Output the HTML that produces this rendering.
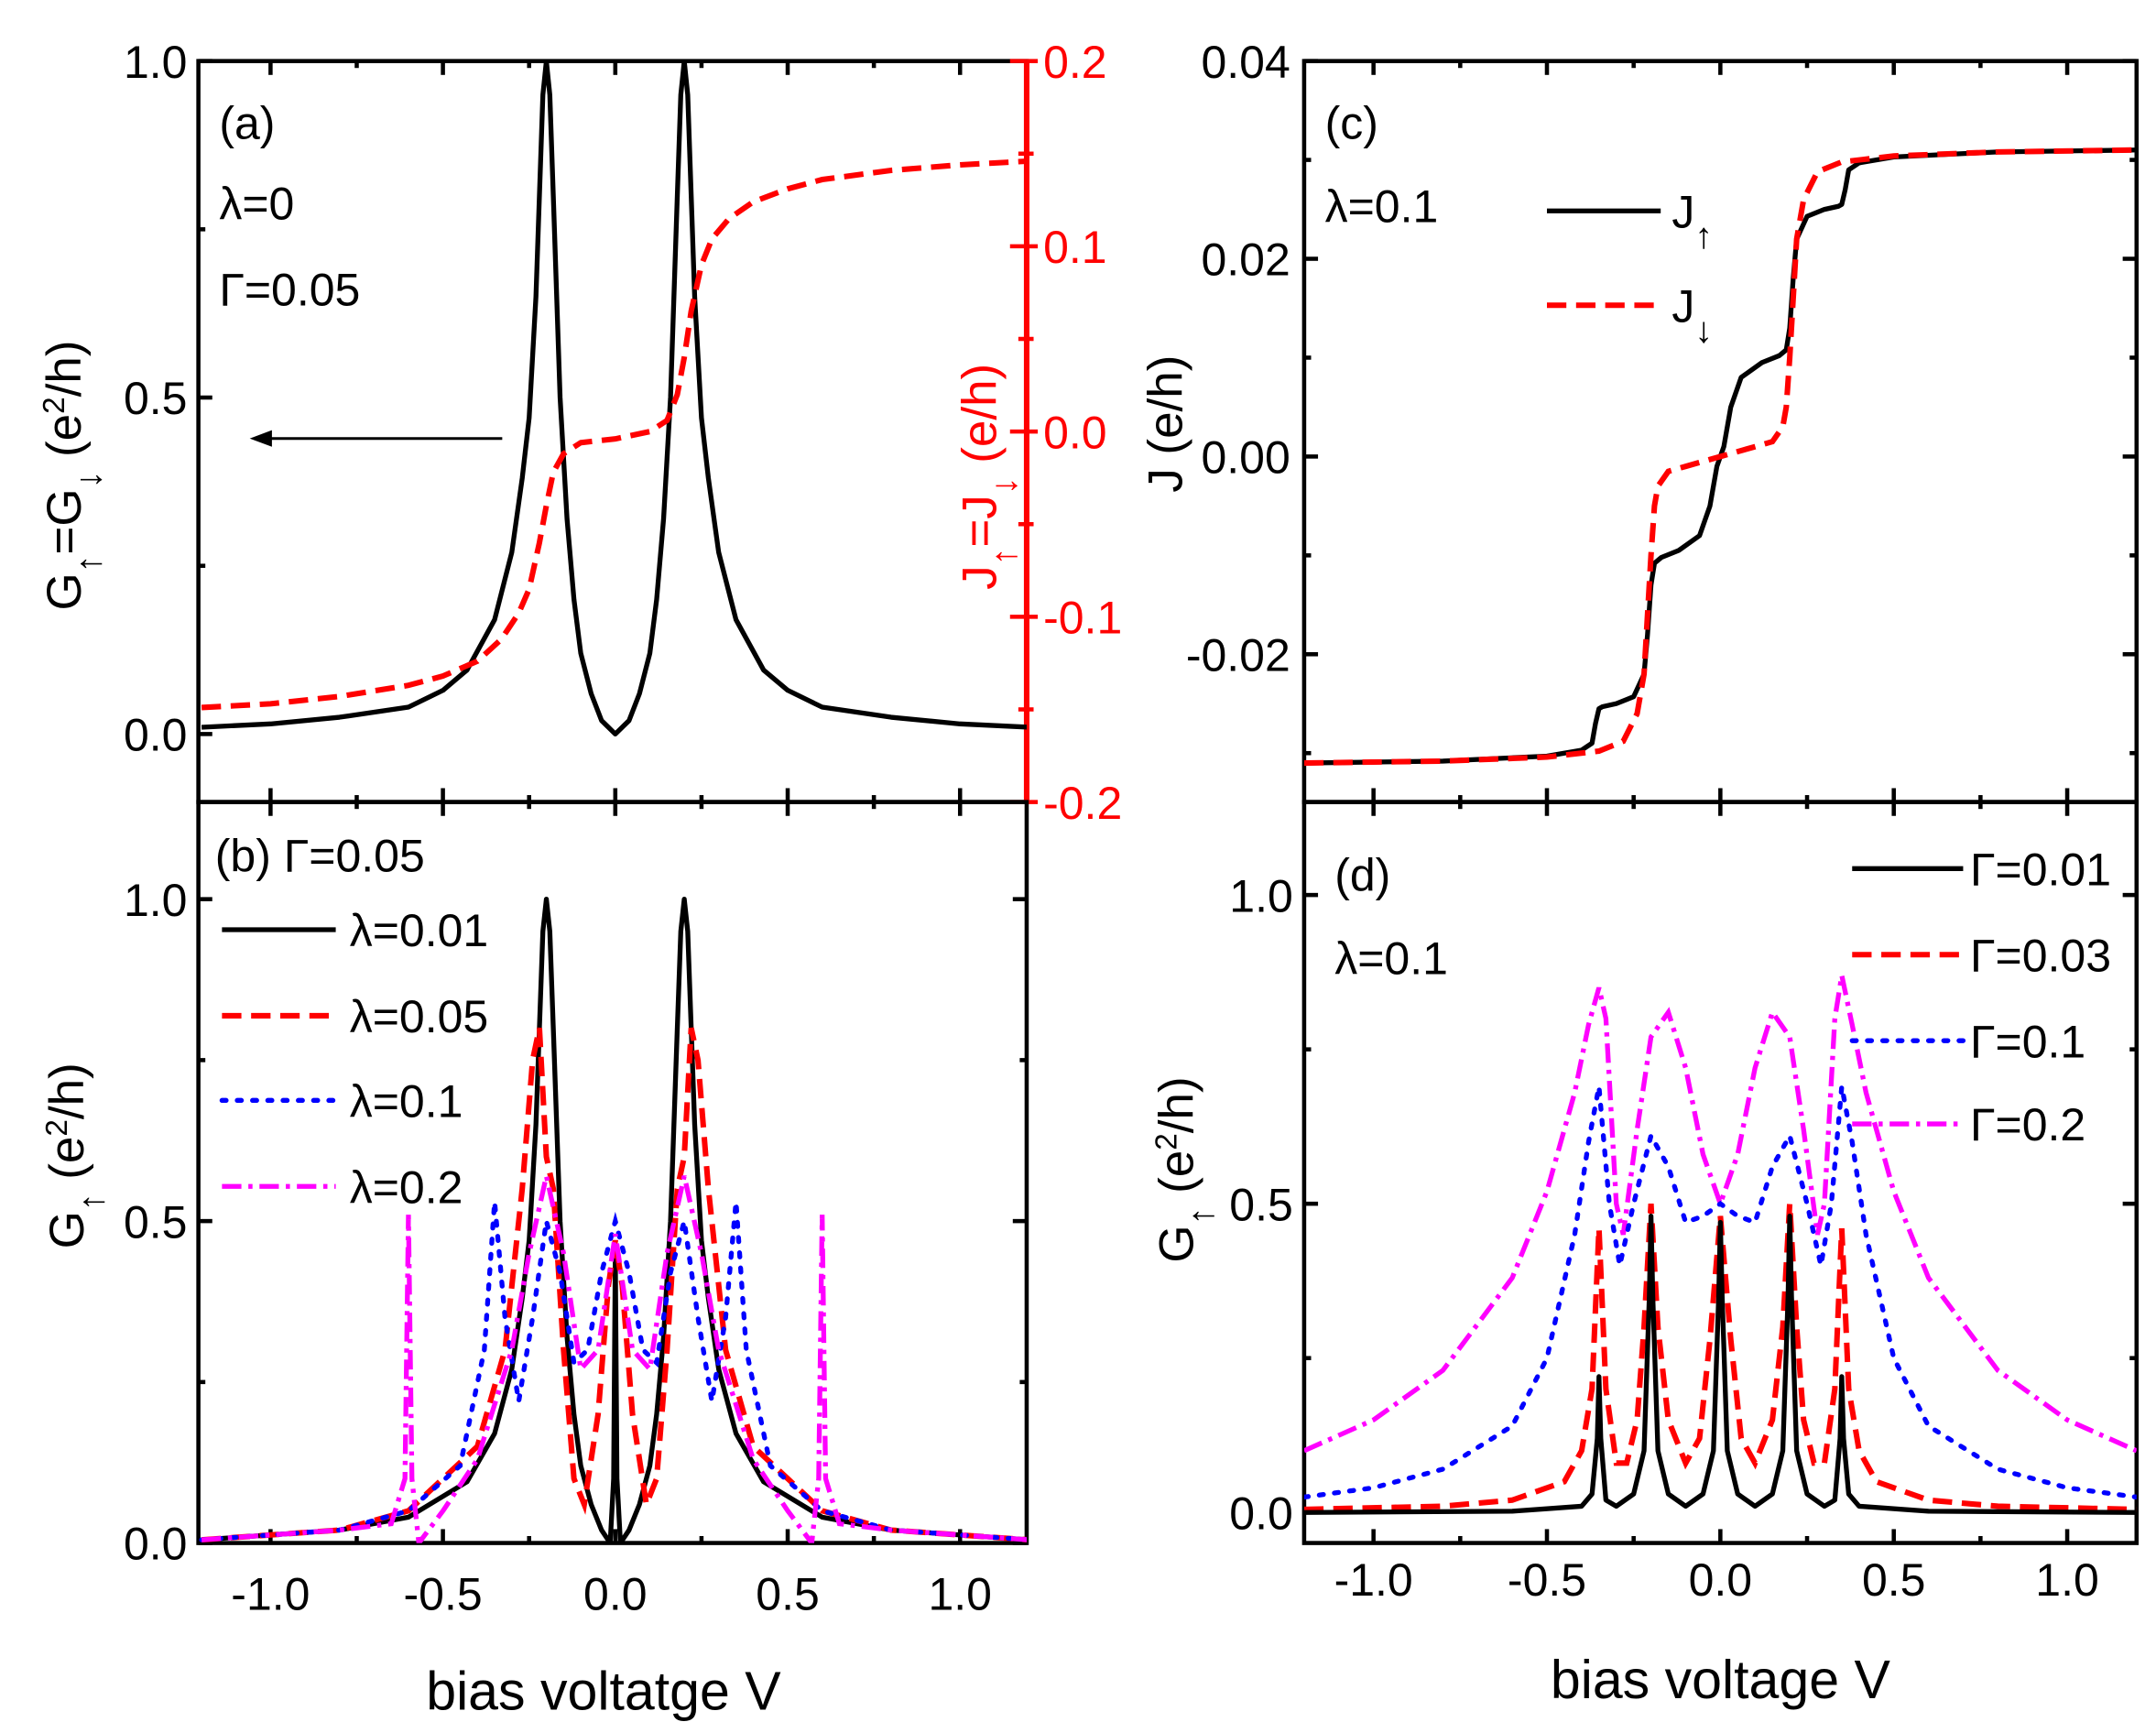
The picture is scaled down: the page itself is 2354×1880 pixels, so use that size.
<!DOCTYPE html>
<html><head><meta charset="utf-8"><style>
html,body{margin:0;padding:0;background:#fff}
svg{display:block}
text{font-family:"Liberation Sans",Arial,sans-serif}
</style></head><body>
<svg id="fig" width="2354" height="1880" viewBox="0 0 1554 1241" preserveAspectRatio="none" xmlns="http://www.w3.org/2000/svg">
<defs>
<clipPath id="cpA"><rect x="143" y="44" width="597" height="534"/></clipPath>
<clipPath id="cpB"><rect x="143" y="578" width="597" height="534"/></clipPath>
<clipPath id="cpC"><rect x="940" y="44" width="600" height="534"/></clipPath>
<clipPath id="cpD"><rect x="940" y="578" width="600" height="534"/></clipPath>
</defs>
<g id="layer"></g>
</svg>
<script>
// ---------- data ----------
// panel (a)
const aGx=[-1.2,-1.0,-0.8,-0.6,-0.5,-0.43,-0.35,-0.3,-0.27,-0.25,-0.23,-0.22,-0.21,-0.2,-0.19,-0.18,-0.16,-0.14,-0.12,-0.1,-0.07,-0.04,0,0.04,0.07,0.1,0.12,0.14,0.16,0.18,0.19,0.2,0.21,0.22,0.23,0.25,0.27,0.3,0.35,0.43,0.5,0.6,0.8,1.0,1.2];
const aGy=[0.01,0.015,0.025,0.04,0.065,0.095,0.17,0.27,0.38,0.47,0.65,0.8,0.95,1.0,0.95,0.8,0.5,0.32,0.2,0.12,0.06,0.02,0.0,0.02,0.06,0.12,0.2,0.32,0.5,0.8,0.95,1.0,0.95,0.8,0.65,0.47,0.38,0.27,0.17,0.095,0.065,0.04,0.025,0.015,0.01];
const aJx=[-1.2,-1.0,-0.8,-0.6,-0.5,-0.4,-0.33,-0.28,-0.25,-0.22,-0.2,-0.18,-0.15,-0.1,0,0.1,0.15,0.18,0.2,0.22,0.25,0.28,0.33,0.4,0.5,0.6,0.8,1.0,1.2];
const aJy=[-0.149,-0.147,-0.143,-0.137,-0.132,-0.124,-0.112,-0.098,-0.085,-0.06,-0.04,-0.022,-0.012,-0.006,-0.004,0.0,0.006,0.02,0.04,0.065,0.09,0.104,0.115,0.124,0.131,0.136,0.141,0.144,0.146];
// panel (b)
const bBx=[-1.2,-0.8,-0.6,-0.43,-0.35,-0.3,-0.27,-0.25,-0.23,-0.22,-0.21,-0.2,-0.19,-0.18,-0.16,-0.14,-0.12,-0.1,-0.07,-0.04,-0.015,-0.005,0,0.005,0.015,0.04,0.07,0.1,0.12,0.14,0.16,0.18,0.19,0.2,0.21,0.22,0.23,0.25,0.27,0.3,0.35,0.43,0.6,0.8,1.2];
const bBy=[0.005,0.02,0.04,0.095,0.17,0.27,0.38,0.47,0.65,0.8,0.95,1.0,0.95,0.8,0.5,0.32,0.2,0.12,0.06,0.02,0.0,0.1,0.45,0.1,0.0,0.02,0.06,0.12,0.2,0.32,0.5,0.8,0.95,1.0,0.95,0.8,0.65,0.47,0.38,0.27,0.17,0.095,0.04,0.02,0.005];
const bRx=[-1.2,-0.8,-0.6,-0.4,-0.32,-0.27,-0.24,-0.22,-0.2,-0.18,-0.15,-0.12,-0.09,-0.05,-0.02,0,0.02,0.05,0.09,0.12,0.15,0.18,0.2,0.22,0.24,0.27,0.32,0.4,0.6,0.8,1.2];
const bRy=[0.005,0.02,0.05,0.15,0.3,0.55,0.75,0.8,0.6,0.55,0.3,0.1,0.06,0.2,0.4,0.47,0.4,0.2,0.06,0.1,0.3,0.55,0.6,0.8,0.75,0.55,0.3,0.15,0.05,0.02,0.005];
const bUx=[-1.2,-0.8,-0.6,-0.45,-0.38,-0.35,-0.32,-0.28,-0.24,-0.2,-0.16,-0.12,-0.08,-0.04,0,0.04,0.08,0.12,0.16,0.2,0.24,0.28,0.32,0.35,0.38,0.45,0.6,0.8,1.2];
const bUy=[0.005,0.02,0.05,0.12,0.3,0.53,0.35,0.22,0.35,0.5,0.42,0.28,0.3,0.42,0.5,0.42,0.3,0.28,0.42,0.5,0.35,0.22,0.35,0.53,0.3,0.12,0.05,0.02,0.005];
const bMx=[-1.2,-0.8,-0.65,-0.61,-0.6,-0.59,-0.57,-0.5,-0.4,-0.3,-0.25,-0.2,-0.15,-0.1,-0.05,0,0.05,0.1,0.15,0.2,0.25,0.3,0.4,0.5,0.57,0.59,0.6,0.61,0.65,0.8,1.2];
const bMy=[0.005,0.02,0.03,0.1,0.51,0.1,0.0,0.05,0.13,0.3,0.45,0.57,0.45,0.27,0.3,0.48,0.3,0.27,0.45,0.57,0.45,0.3,0.13,0.05,0.0,0.1,0.51,0.1,0.03,0.02,0.005];
// panel (c)
const cUx=[-1.2,-0.8,-0.5,-0.4,-0.37,-0.36,-0.35,-0.34,-0.3,-0.25,-0.22,-0.21,-0.2,-0.19,-0.17,-0.12,-0.06,-0.03,-0.01,0,0.01,0.03,0.06,0.12,0.17,0.19,0.2,0.21,0.22,0.25,0.3,0.34,0.35,0.36,0.37,0.4,0.5,0.8,1.2];
const cUy=[-0.031,-0.0308,-0.0303,-0.0297,-0.029,-0.027,-0.0255,-0.0253,-0.025,-0.0243,-0.022,-0.018,-0.013,-0.0108,-0.0102,-0.0095,-0.008,-0.005,-0.001,0.0,0.001,0.005,0.008,0.0095,0.0102,0.0108,0.013,0.018,0.022,0.0243,0.025,0.0253,0.0255,0.027,0.029,0.0297,0.0303,0.0308,0.031];
const cDx=[-1.2,-0.8,-0.5,-0.35,-0.28,-0.24,-0.22,-0.21,-0.2,-0.19,-0.18,-0.15,-0.1,0,0.1,0.15,0.18,0.19,0.2,0.21,0.22,0.24,0.28,0.35,0.5,0.8,1.2];
const cDy=[-0.031,-0.0308,-0.0304,-0.0298,-0.0288,-0.026,-0.022,-0.016,-0.01,-0.005,-0.003,-0.0015,-0.001,0.0,0.001,0.0015,0.003,0.005,0.01,0.016,0.022,0.026,0.0288,0.0298,0.0304,0.0308,0.031];
// panel (d)
const dKx=[-1.2,-0.6,-0.4,-0.37,-0.355,-0.35,-0.345,-0.33,-0.3,-0.25,-0.22,-0.205,-0.2,-0.195,-0.18,-0.15,-0.1,-0.05,-0.02,-0.005,0,0.005,0.02,0.05,0.1,0.15,0.18,0.195,0.2,0.205,0.22,0.25,0.3,0.33,0.345,0.35,0.355,0.37,0.4,0.6,1.2];
const dKy=[0.0,0.002,0.01,0.03,0.12,0.22,0.12,0.02,0.01,0.03,0.1,0.35,0.48,0.35,0.1,0.03,0.01,0.03,0.1,0.35,0.47,0.35,0.1,0.03,0.01,0.03,0.1,0.35,0.48,0.35,0.1,0.03,0.01,0.02,0.12,0.22,0.12,0.03,0.01,0.002,0.0];
const dRx=[-1.2,-0.8,-0.6,-0.45,-0.4,-0.37,-0.35,-0.33,-0.3,-0.27,-0.24,-0.22,-0.2,-0.18,-0.15,-0.1,-0.06,-0.03,0,0.03,0.06,0.1,0.15,0.18,0.2,0.22,0.24,0.27,0.3,0.33,0.35,0.37,0.4,0.45,0.6,0.8,1.2];
const dRy=[0.005,0.01,0.02,0.05,0.1,0.2,0.46,0.2,0.08,0.08,0.15,0.3,0.5,0.3,0.15,0.08,0.12,0.28,0.48,0.28,0.12,0.08,0.15,0.3,0.5,0.3,0.15,0.08,0.08,0.2,0.46,0.2,0.1,0.05,0.02,0.01,0.005];
const dUx=[-1.2,-1.0,-0.8,-0.6,-0.5,-0.42,-0.38,-0.35,-0.32,-0.29,-0.25,-0.2,-0.15,-0.1,-0.05,0,0.05,0.1,0.15,0.2,0.25,0.29,0.32,0.35,0.38,0.42,0.5,0.6,0.8,1.0,1.2];
const dUy=[0.025,0.04,0.07,0.14,0.25,0.45,0.6,0.69,0.5,0.4,0.5,0.61,0.56,0.47,0.48,0.5,0.48,0.47,0.56,0.61,0.5,0.4,0.5,0.69,0.6,0.45,0.25,0.14,0.07,0.04,0.025];
const dMx=[-1.2,-1.0,-0.8,-0.6,-0.5,-0.42,-0.38,-0.35,-0.33,-0.3,-0.28,-0.24,-0.2,-0.15,-0.1,-0.05,0,0.05,0.1,0.15,0.2,0.24,0.28,0.3,0.33,0.35,0.38,0.42,0.5,0.6,0.8,1.0,1.2];
const dMy=[0.1,0.15,0.23,0.38,0.52,0.68,0.79,0.85,0.8,0.5,0.45,0.62,0.77,0.81,0.72,0.58,0.5,0.58,0.72,0.81,0.77,0.62,0.45,0.5,0.8,0.87,0.79,0.68,0.52,0.38,0.23,0.15,0.1];

// ---------- helpers ----------
const NS="http://www.w3.org/2000/svg";
const layer=document.getElementById('layer');
function mk(tag,attrs,parent){const e=document.createElementNS(NS,tag);for(const k in attrs)e.setAttribute(k,attrs[k]);(parent||layer).appendChild(e);return e;}
function lin(d0,d1,p0,p1){return v=>p0+(v-d0)*(p1-p0)/(d1-d0);}
const xL=lin(-1,1,195,692), xR=lin(-1,1,990,1490);
const yA=lin(0,1,529,44), yAJ=lin(0,0.1,311,177.5), yB=lin(0,1,1112,648), yC=lin(0,0.02,329,186.5), yD=lin(0,1,1090,645);
const styles={
 black:{stroke:'#000','stroke-width':3.5,fill:'none','stroke-linejoin':'round'},
 red:{stroke:'#ff0000','stroke-width':4,fill:'none','stroke-dasharray':'14 7'},
 blue:{stroke:'#0000ff','stroke-width':3.5,fill:'none','stroke-dasharray':'3 8','stroke-linecap':'round'},
 mag:{stroke:'#ff00ff','stroke-width':3.5,fill:'none','stroke-dasharray':'14 5 3 5'}
};
function series(xs,ys,fx,fy,st,clip,name){
 let d='';for(let i=0;i<xs.length;i++)d+=(i?'L':'M')+fx(xs[i]).toFixed(1)+' '+fy(ys[i]).toFixed(1);
 const p=mk('path',Object.assign({d:d,'clip-path':'url(#'+clip+')'},styles[st]));
 
 
}
function txt(x,y,s,size,anchor,fill,name,rot){
 const t=mk('text',{x:x,y:y,'font-size':size,'text-anchor':anchor||'start',fill:fill||'#000'});
 if(rot)t.setAttribute('transform','rotate(-90 '+x+' '+y+')');
 t.innerHTML=s;
 
 
 return t;
}
function frame(x0,y0,x1,y1,name){
 const r=mk('rect',{x:x0,y:y0,width:x1-x0,height:y1-y0,fill:'none',stroke:'#000','stroke-width':3});
 
 
}
function tick(x1,y1,x2,y2,color){mk('line',{x1:x1,y1:y1,x2:x2,y2:y2,stroke:color||'#000','stroke-width':3});}
const xMaj=[-1.0,-0.5,0.0,0.5,1.0], xMin=[-0.75,-0.25,0.25,0.75];
const xLab=['-1.0','-0.5','0.0','0.5','1.0'];
function xticks(fx,yTop,yBot,labels,labY){
 xMaj.forEach((v,i)=>{const x=fx(v);tick(x,yTop,x,yTop+10);tick(x,yBot,x,yBot-10);
  if(labels)txt(x,labY,xLab[i],33,'middle','#000','x-tick-label');});
 xMin.forEach(v=>{const x=fx(v);tick(x,yTop,x,yTop+5);tick(x,yBot,x,yBot-5);});
}
const SUP=s=>'<tspan baseline-shift="super" font-size="22">'+s+'</tspan>';
const SUB=s=>'<tspan baseline-shift="sub" font-size="26">'+s+'</tspan>';

// ---------- panel a ----------
frame(143,44,740,578,'panel-a-frame');
xticks(xL,44,578,false);
const aYt=[0,0.5,1.0],aYl=['0.0','0.5','1.0'];
aYt.forEach((v,i)=>{tick(143,yA(v),153,yA(v));txt(135,yA(v)+12,aYl[i],33,'end','#000','y-tick-label-a');});
[0.25,0.75].forEach(v=>tick(143,yA(v),148,yA(v)));
const aJt=[-0.2,-0.1,0.0,0.1,0.2],aJl=['-0.2','-0.1','0.0','0.1','0.2'];
mk('line',{x1:740,y1:44,x2:740,y2:578,stroke:'#ff0000','stroke-width':4});
aJt.forEach((v,i)=>{tick(740,yAJ(v),728,yAJ(v),'#ff0000');tick(740,yAJ(v),748,yAJ(v),'#ff0000');txt(752,yAJ(v)+12,aJl[i],33,'start','#ff0000','y2-tick-label-a');});
[-0.15,-0.05,0.05,0.15].forEach(v=>{tick(740,yAJ(v),734,yAJ(v),'#ff0000');tick(740,yAJ(v),745,yAJ(v),'#ff0000');});
series(aGx,aGy,xL,yA,'black','cpA','conductance-curve-a');
series(aJx,aJy,xL,yAJ,'red','cpA','current-curve-a');
txt(158,100,'(a)',33,'start','#000','panel-a-label');
txt(158,158,'λ=0',33,'start','#000','lambda-label-a');
txt(158,220,'Γ=0.05',33,'start','#000','gamma-label-a');
mk('line',{x1:362,y1:316,x2:190,y2:316,stroke:'#000','stroke-width':2});
mk('path',{d:'M180 316 L196 310 L196 322 Z',fill:'#000'});
txt(58,440,'G'+SUB('↑')+'=G'+SUB('↓')+' (e'+SUP('2')+'/h)',35,'start','#000','y-axis-title-a',true);
txt(718,425,'J'+SUB('↑')+'=J'+SUB('↓')+' (e/h)',35,'start','#ff0000','y2-axis-title-a',true);

// ---------- panel b ----------
frame(143,578,740,1112,'panel-b-frame');
xticks(xL,578,1112,true,1160);
const bYt=[0,0.5,1.0];
bYt.forEach((v,i)=>{tick(143,yB(v),153,yB(v));tick(740,yB(v),730,yB(v));txt(135,yB(v)+12,aYl[i],33,'end','#000','y-tick-label-b');});
[0.25,0.75].forEach(v=>{tick(143,yB(v),148,yB(v));tick(740,yB(v),735,yB(v));});
series(bBx,bBy,xL,yB,'black','cpB','lambda-0.01-curve');
series(bRx,bRy,xL,yB,'red','cpB','lambda-0.05-curve');
series(bUx,bUy,xL,yB,'blue','cpB','lambda-0.1-curve');
series(bMx,bMy,xL,yB,'mag','cpB','lambda-0.2-curve');
txt(155,628,'(b) Γ=0.05',33,'start','#000','panel-b-label');
const bLeg=[['black','λ=0.01',670],['red','λ=0.05',732],['blue','λ=0.1',793],['mag','λ=0.2',855]];
bLeg.forEach(l=>{mk('line',Object.assign({x1:160,y1:l[2],x2:242,y2:l[2]},styles[l[0]]));txt(252,l[2]+12,l[1],33,'start','#000','legend-entry-b');});
txt(435,1232,'bias voltatge V',39,'middle','#000','x-axis-title-left');
txt(60,900,'G'+SUB('↑')+' (e'+SUP('2')+'/h)',35,'start','#000','y-axis-title-b',true);

// ---------- panel c ----------
frame(940,44,1540,578,'panel-c-frame');
xticks(xR,44,578,false);
const cYt=[-0.02,0.0,0.02,0.04],cYl=['-0.02','0.00','0.02','0.04'];
cYt.forEach((v,i)=>{tick(940,yC(v),950,yC(v));tick(1540,yC(v),1530,yC(v));txt(930,yC(v)+12,cYl[i],33,'end','#000','y-tick-label-c');});
[-0.03,-0.01,0.01,0.03].forEach(v=>{tick(940,yC(v),945,yC(v));tick(1540,yC(v),1535,yC(v));});
series(cUx,cUy,xR,yC,'black','cpC','spin-up-current');
series(cDx,cDy,xR,yC,'red','cpC','spin-down-current');
txt(955,100,'(c)',33,'start','#000','panel-c-label');
txt(955,160,'λ=0.1',33,'start','#000','lambda-label-c');
mk('line',Object.assign({x1:1115,y1:152,x2:1197,y2:152},styles.black));
txt(1205,164,'J'+SUB('↑'),33,'start','#000','legend-entry-c');
mk('line',Object.assign({x1:1115,y1:220,x2:1197,y2:220},styles.red));
txt(1205,232,'J'+SUB('↓'),33,'start','#000','legend-entry-c');
txt(852,355,'J (e/h)',35,'start','#000','y-axis-title-c',true);

// ---------- panel d ----------
frame(940,578,1540,1112,'panel-d-frame');
xticks(xR,578,1112,true,1150);
bYt.forEach((v,i)=>{tick(940,yD(v),950,yD(v));tick(1540,yD(v),1530,yD(v));txt(932,yD(v)+12,aYl[i],33,'end','#000','y-tick-label-d');});
[0.25,0.75].forEach(v=>{tick(940,yD(v),945,yD(v));tick(1540,yD(v),1535,yD(v));});
series(dMx,dMy,xR,yD,'mag','cpD','gamma-0.2-curve');
series(dUx,dUy,xR,yD,'blue','cpD','gamma-0.1-curve');
series(dRx,dRy,xR,yD,'red','cpD','gamma-0.03-curve');
series(dKx,dKy,xR,yD,'black','cpD','gamma-0.01-curve');
txt(962,642,'(d)',33,'start','#000','panel-d-label');
txt(962,702,'λ=0.1',33,'start','#000','lambda-label-d');
const dLeg=[['black','Γ=0.01',626],['red','Γ=0.03',688],['blue','Γ=0.1',750],['mag','Γ=0.2',810]];
dLeg.forEach(l=>{mk('line',Object.assign({x1:1335,y1:l[2],x2:1415,y2:l[2]},styles[l[0]]));txt(1420,l[2]+12,l[1],33,'start','#000','legend-entry-d');});
txt(1240,1224,'bias voltage V',39,'middle','#000','x-axis-title-right');
txt(860,910,'G'+SUB('↑')+' (e'+SUP('2')+'/h)',35,'start','#000','y-axis-title-d',true);
</script>
</body></html>
